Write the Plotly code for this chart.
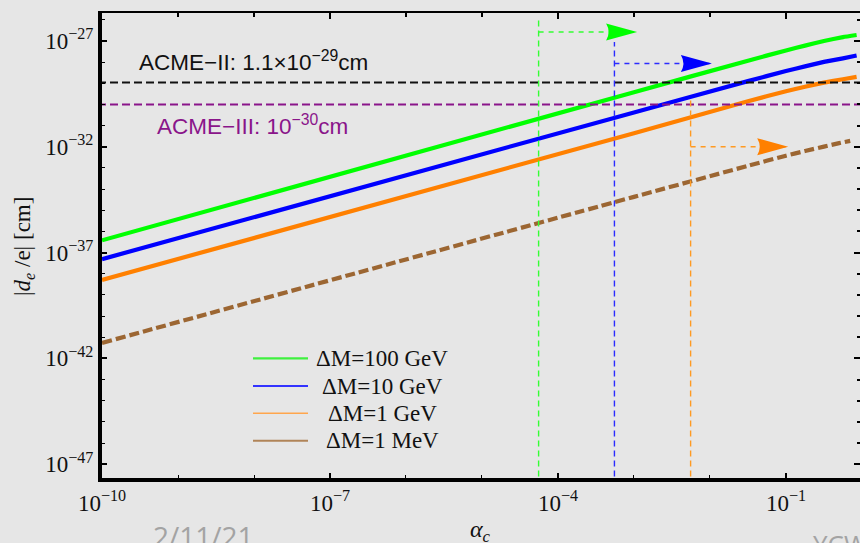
import plotly.graph_objects as go

# ---- data ---------------------------------------------------------------
# alpha_c sample points for the three heavy-splitting curves and the 1 MeV curve
alpha_grid = [1e-10, 1e-3, 3.16e-2, 1e-1, 1.78e-1, 3.16e-1, 5.62e-1, 8.5e-1]
alpha_grid_mev = [1e-10, 1e-3, 3.16e-2, 1e-1, 1.78e-1, 3.16e-1, 5.0e-1, 7.0e-1]

# |d_e/e| in cm
de_100gev = [3.8e-37, 3.8e-30, 1.17e-28, 3.55e-28, 6.0e-28, 1.0e-27, 1.51e-27, 1.9e-27]
de_10gev = [4.9e-38, 4.2e-31, 1.26e-29, 3.8e-29, 6.3e-29, 1.02e-28, 1.51e-28, 2.04e-28]
de_1gev = [5.1e-39, 4.4e-32, 1.41e-30, 4.2e-30, 6.9e-30, 1.07e-29, 1.55e-29, 2.0e-29]
de_1mev = [5.4e-42, 4.3e-35, 1.26e-33, 3.8e-33, 6.3e-33, 1.02e-32, 1.48e-32, 1.9e-32]

series_labels = ["ΔM=100 GeV", "ΔM=10 GeV", "ΔM=1 GeV", "ΔM=1 MeV"]

# experimental limits on the electron EDM (cm)
acme_ii = 1.1e-29
acme_iii = 1.0e-30

# lower alpha_c bounds (vertical dashed lines) and the arrows pointing to larger alpha_c
bound_alpha = [5.56e-5, 5.53e-4, 5.56e-3]
bound_top = [9.5e-27, 8.9e-28, 2.2e-30]
arrow_level = [2.66e-27, 8.6e-29, 1.0e-32]
arrow_tip = [1.1e-3, 1.06e-2, 1.07e-1]

# axis ticks
x_major = [1e-10, 1e-7, 1e-4, 1e-1]
x_major_text = ["10<sup>−10</sup>", "10<sup>−7</sup>", "10<sup>−4</sup>", "10<sup>−1</sup>"]
x_minor = [10.0 ** k for k in range(-10, 1)]
y_major = [1e-27, 1e-32, 1e-37, 1e-42, 1e-47]
y_major_text = ["10<sup>−27</sup>", "10<sup>−32</sup>", "10<sup>−37</sup>",
                "10<sup>−42</sup>", "10<sup>−47</sup>"]
y_minor = [10.0 ** k for k in range(-49, -24)]

# ---- style ----------------------------------------------------------------
W, H = 860, 543
L, R, T, B = 102, 0, 13, 65
PW, PH = W - L - R, H - T - B
BG = "#e6e6e6"
SERIF = "Liberation Serif, Times New Roman, serif"
SANS = "Liberation Sans, Arial, sans-serif"

curve_colors = ["#00ff00", "#0000ff", "#ff8000", "#9c6632"]
legend_colors = ["#3ff03f", "#3333ff", "#ffa64d", "#b08458"]
bound_colors = ["#33ff33", "#2b2bff", "#ff9a22"]


def pxx(xp):
    return (xp - L) / PW


def pxy(yp):
    return (H - B - yp) / PH


x_range = [-10, -0.026]
y_range = [-47.65, -25.68]

fig = go.Figure()

curves = [
    (alpha_grid, de_100gev, curve_colors[0], "solid"),
    (alpha_grid, de_10gev, curve_colors[1], "solid"),
    (alpha_grid, de_1gev, curve_colors[2], "solid"),
    (alpha_grid_mev, de_1mev, curve_colors[3], "10px,4px"),
]
for (xs, ys, col, dash), name in zip(curves, series_labels):
    fig.add_trace(go.Scatter(
        x=xs, y=ys, mode="lines", name=name, showlegend=False,
        line=dict(color=col, width=4.2, dash=dash, shape="spline", smoothing=0.4),
        hoverinfo="skip",
    ))

# horizontal limit lines across the whole alpha range
for level, col in [(acme_ii, "#111111"), (acme_iii, "#8a158a")]:
    fig.add_trace(go.Scatter(
        x=[1e-11, 10.0], y=[level, level], mode="lines", showlegend=False,
        line=dict(color=col, width=2, dash="8px,4px"), hoverinfo="skip",
    ))

# vertical bounds and arrow shafts
for a, top, lev, tip, col in zip(bound_alpha, bound_top, arrow_level, arrow_tip, bound_colors):
    fig.add_trace(go.Scatter(
        x=[a, a], y=[1e-49, top], mode="lines", showlegend=False,
        line=dict(color=col, width=1.4, dash="6px,4px"), hoverinfo="skip",
    ))
    fig.add_trace(go.Scatter(
        x=[a, tip], y=[lev, lev], mode="lines", showlegend=False,
        line=dict(color=col, width=1.4, dash="5px,5px"), hoverinfo="skip",
    ))

# empty trace so the mirrored frame axes are drawn
fig.add_trace(go.Scatter(x=[], y=[], xaxis="x2", yaxis="y2", showlegend=False,
                         hoverinfo="skip"))

shapes = []
# arrowheads, sized in pixels and anchored at the arrow tips
head_path = "M0,0 L-31,8.5 Q-26,0 -31,-8.5 Z"
for lev, tip, col in zip(arrow_level, arrow_tip, curve_colors[:3]):
    shapes.append(dict(
        type="path", xref="x", yref="y",
        xsizemode="pixel", ysizemode="pixel",
        xanchor=tip, yanchor=lev,
        path=head_path, fillcolor=col, line=dict(width=0), layer="above",
    ))

# hand-placed legend
legend_rows = [358.3, 386.0, 413.3, 440.7]
legend_widths = [2.2, 2.0, 1.6, 2.0]
annotations = []
for ypix, lab, col, lw in zip(legend_rows, series_labels, legend_colors, legend_widths):
    shapes.append(dict(type="line", xref="paper", yref="paper",
                       x0=pxx(253), x1=pxx(308), y0=pxy(ypix), y1=pxy(ypix),
                       line=dict(color=col, width=lw)))
    annotations.append(dict(xref="paper", yref="paper", x=pxx(382), y=pxy(ypix),
                            text=lab, showarrow=False, xanchor="center", yanchor="middle",
                            font=dict(family=SERIF, size=23, color="#111111")))

annotations += [
    dict(xref="paper", yref="paper", x=pxx(253), y=pxy(61),
         text="ACME−II: 1.1×10<sup>−29</sup>cm", showarrow=False,
         xanchor="center", yanchor="middle",
         font=dict(family=SANS, size=22.5, color="#111111")),
    dict(xref="paper", yref="paper", x=pxx(252), y=pxy(125),
         text="ACME−III: 10<sup>−30</sup>cm", showarrow=False,
         xanchor="center", yanchor="middle",
         font=dict(family=SANS, size=22.5, color="#8a158a")),
    dict(xref="paper", yref="paper", x=pxx(24), y=pxy(247),
         text="|<i>d</i><sub><i>e</i></sub> /e| [cm]", showarrow=False,
         textangle=-90, xanchor="center", yanchor="middle",
         font=dict(family=SERIF, size=23, color="#111111")),
    dict(xref="paper", yref="paper", x=pxx(480), y=pxy(531),
         text="<i>α</i><sub><i>c</i></sub>", showarrow=False,
         xanchor="center", yanchor="middle",
         font=dict(family=SERIF, size=24, color="#111111")),
    dict(xref="paper", yref="paper", x=pxx(203), y=pxy(536),
         text="2/11/21", showarrow=False, xanchor="center", yanchor="middle",
         font=dict(family="Open Sans, sans-serif", size=28, color="#a3a3a3")),
    dict(xref="paper", yref="paper", x=pxx(811), y=pxy(544),
         text="YCW", showarrow=False, xanchor="left", yanchor="middle",
         font=dict(family="Open Sans, sans-serif", size=26, color="#a3a3a3")),
]

tickfont = dict(family=SERIF, size=23, color="#111111")
fig.update_layout(
    width=W, height=H,
    margin=dict(l=L, r=R, t=T, b=B, pad=0),
    paper_bgcolor=BG, plot_bgcolor=BG,
    showlegend=False,
    shapes=shapes, annotations=annotations,
    xaxis=dict(
        type="log", range=x_range, showgrid=False, zeroline=False,
        showline=True, linewidth=4, linecolor="#000000",
        ticks="inside", ticklen=5, tickwidth=1.5, tickcolor="#000000",
        tickmode="array", tickvals=x_major, ticktext=x_major_text,
        tickfont=tickfont, ticklabelstandoff=1,
        minor=dict(tickmode="array", tickvals=x_minor, ticks="inside",
                   ticklen=3, tickwidth=1.2, tickcolor="#000000", showgrid=False),
    ),
    yaxis=dict(
        type="log", range=y_range, showgrid=False, zeroline=False,
        showline=True, linewidth=4, linecolor="#000000",
        ticks="inside", ticklen=5, tickwidth=1.5, tickcolor="#000000",
        tickmode="array", tickvals=y_major, ticktext=y_major_text,
        tickfont=tickfont, ticklabelstandoff=0,
        minor=dict(tickmode="array", tickvals=y_minor, ticks="inside",
                   ticklen=3, tickwidth=1.2, tickcolor="#000000", showgrid=False),
    ),
    xaxis2=dict(
        type="log", range=x_range, overlaying="x", side="top", anchor="y2",
        showgrid=False, zeroline=False, showline=True, linewidth=2, linecolor="#000000",
        ticks="inside", ticklen=6, tickwidth=1.5, tickcolor="#000000",
        tickmode="array", tickvals=x_major, showticklabels=False,
        minor=dict(tickmode="array", tickvals=x_minor, ticks="inside",
                   ticklen=3.5, tickwidth=1.5, tickcolor="#000000", showgrid=False),
    ),
    yaxis2=dict(
        type="log", range=y_range, overlaying="y", side="right", anchor="x2",
        showgrid=False, zeroline=False, showline=False,
        ticks="inside", ticklen=6, tickwidth=1.5, tickcolor="#000000",
        tickmode="array", tickvals=y_major, showticklabels=False,
        minor=dict(tickmode="array", tickvals=y_minor, ticks="inside",
                   ticklen=3.5, tickwidth=1.5, tickcolor="#000000", showgrid=False),
    ),
)

fig.write_html("out.html")
